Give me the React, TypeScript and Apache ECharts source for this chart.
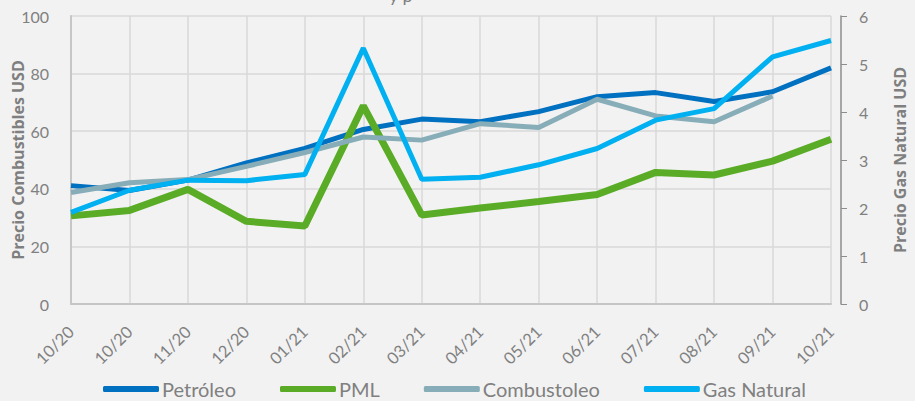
import React, { useEffect, useRef } from "react";
import * as echarts from "echarts";

const categories = ["10/20", "10/20", "11/20", "12/20", "01/21", "02/21", "03/21", "04/21", "05/21", "06/21", "07/21", "08/21", "09/21", "10/21"];
const petroleo = [41.1, 39.4, 43.0, 49.0, 54.0, 60.6, 64.2, 63.3, 66.8, 72.0, 73.4, 70.3, 73.7, 82.0];
const pml = [30.6, 32.5, 39.8, 28.7, 27.1, 68.8, 30.9, 33.3, 35.6, 38.0, 45.7, 44.8, 49.6, 57.2];
const combustoleo = [38.7, 42.1, 43.2, 47.8, 52.6, 58.0, 56.9, 62.6, 61.3, 71.1, 65.3, 63.3, 72.2, null];
const gasNatural = [1.91, 2.37, 2.58, 2.57, 2.70, 5.33, 2.60, 2.64, 2.90, 3.24, 3.83, 4.07, 5.15, 5.49];
const leftTicks = { min: 0, max: 100, interval: 20 };
const rightTicks = { min: 0, max: 6, interval: 1 };

const FONT = "Lato";
const TXT = "#808080";

export default function App() {
  const ref = useRef<HTMLDivElement>(null);
  useEffect(() => {
    document.body.style.margin = "0";
    document.body.style.background = "#f2f2f2";
    const chart = echarts.init(ref.current!, null, { renderer: "svg" });
    chart.setOption({
      animation: false,
      backgroundColor: "#f2f2f2",
      textStyle: { fontFamily: FONT },
      graphic: [
        {
          type: "text",
          x: 389,
          y: 4,
          style: { text: "y p", font: `18px ${FONT}`, fill: TXT, verticalAlign: "bottom" },
        },
      ],
      grid: { left: 71, right: 84, top: 16, bottom: 97, containLabel: false, outerBoundsMode: "none" },
      legend: {
        left: 98,
        top: 374,
        icon: "roundRect",
        itemWidth: 56,
        itemHeight: 6,
        itemGap: 44,
        textStyle: { fontSize: 20, color: TXT, fontFamily: FONT, padding: [0, 0, 0, -2] },
        data: ["Petróleo", "PML", "Combustoleo", "Gas Natural"],
      },
      xAxis: {
        type: "category",
        boundaryGap: false,
        data: categories,
        axisLine: { lineStyle: { color: "#c6c6c6", width: 2 } },
        axisTick: { show: false },
        splitLine: { show: true, lineStyle: { color: "#d9d9d9", width: 1.5 } },
        axisLabel: { rotate: 45, interval: 0, fontSize: 16.5, color: TXT, margin: 25, fontFamily: FONT },
      },
      yAxis: [
        {
          type: "value",
          ...leftTicks,
          name: "Precio Combustibles USD",
          nameLocation: "middle",
          nameRotate: 90,
          nameGap: 45,
          nameMoveOverlap: false,
          nameTextStyle: { fontSize: 16, fontWeight: "bold", color: "#7f7f7f", fontFamily: "Open Sans" },
          axisLine: { show: true, lineStyle: { color: "#c6c6c6", width: 2 } },
          axisTick: { show: false },
          splitLine: { lineStyle: { color: "#d9d9d9", width: 1.5 } },
          axisLabel: { fontSize: 16, color: TXT, margin: 22, fontFamily: FONT },
        },
        {
          type: "value",
          ...rightTicks,
          position: "right",
          offset: 10,
          name: "Precio Gas Natural USD",
          nameLocation: "middle",
          nameRotate: 90,
          nameGap: 51,
          nameMoveOverlap: false,
          nameTextStyle: { fontSize: 16, fontWeight: "bold", color: "#7f7f7f", fontFamily: "Open Sans" },
          axisLine: { show: true, lineStyle: { color: "#8c8c8c", width: 1.5 } },
          axisTick: { show: true, length: 6, lineStyle: { color: "#8c8c8c" } },
          splitLine: { show: false },
          axisLabel: { fontSize: 16, color: TXT, margin: 18, fontFamily: FONT },
        },
      ],
      series: [
        { name: "Petróleo", type: "line", data: petroleo, yAxisIndex: 0, showSymbol: false, color: "#0070c0", lineStyle: { width: 5 } },
        { name: "PML", type: "line", data: pml, yAxisIndex: 0, showSymbol: false, color: "#5aac26", lineStyle: { width: 7 } },
        { name: "Combustoleo", type: "line", data: combustoleo, yAxisIndex: 0, showSymbol: false, color: "#87adb8", lineStyle: { width: 5 } },
        { name: "Gas Natural", type: "line", data: gasNatural, yAxisIndex: 1, showSymbol: false, color: "#00b0f0", lineStyle: { width: 5 } },
      ],
    });
    return () => chart.dispose();
  }, []);
  return <div ref={ref} style={{ width: 915, height: 401 }} />;
}
